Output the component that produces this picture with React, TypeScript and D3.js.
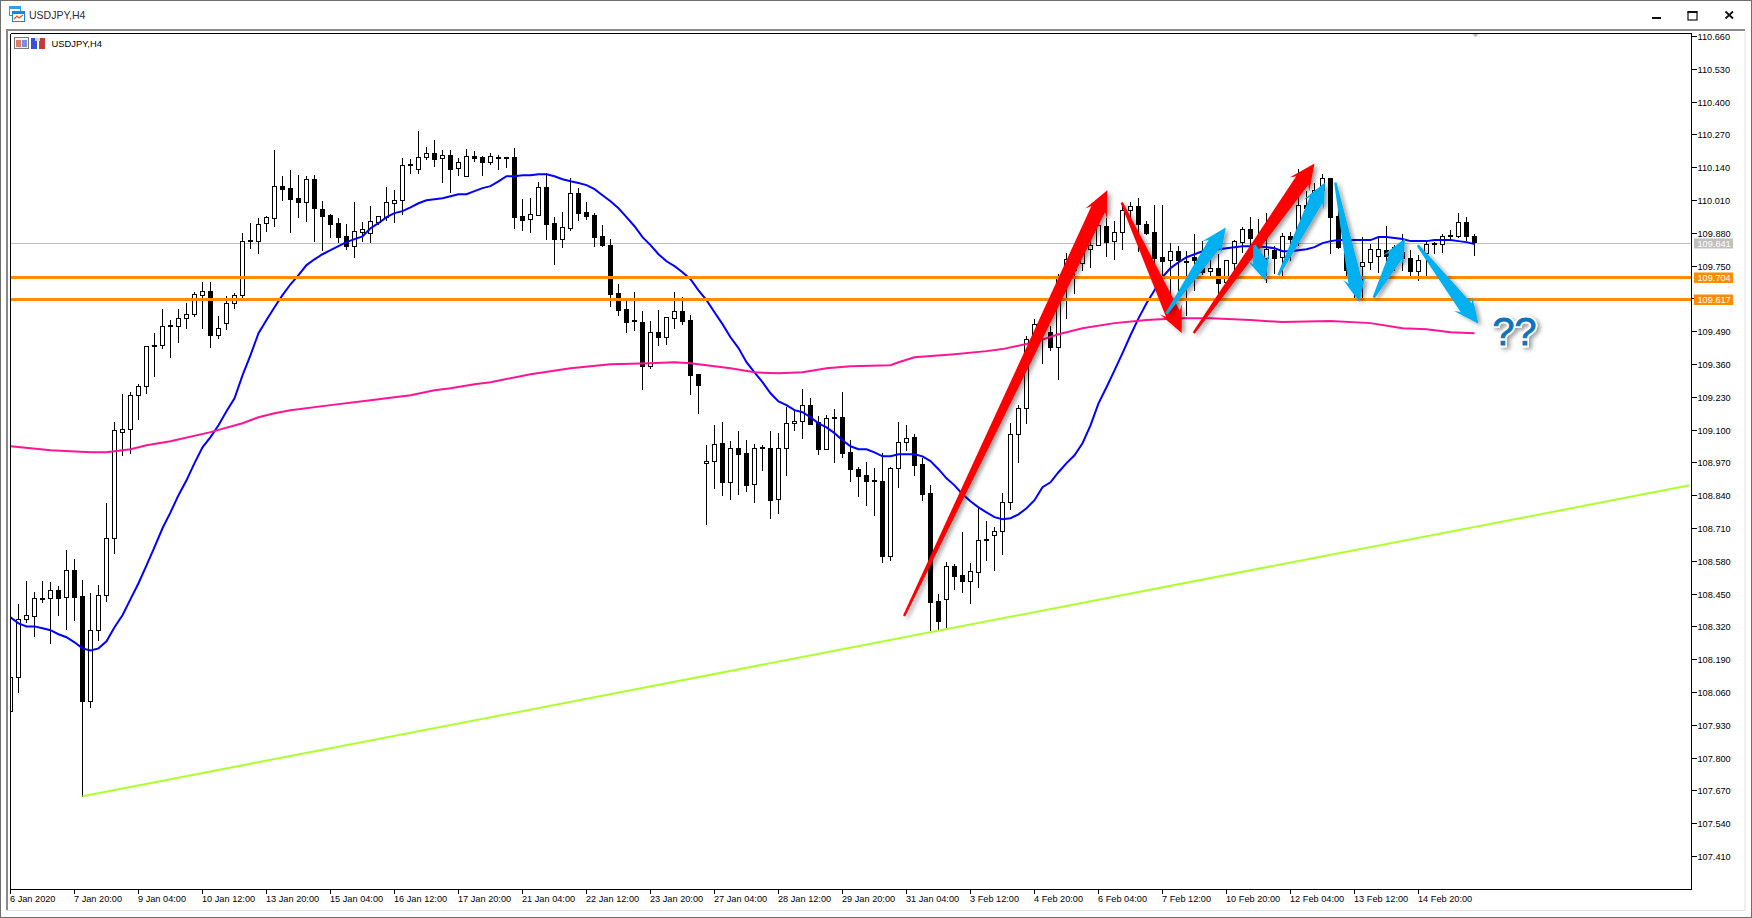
import React from "react";
import * as d3 from "d3";

const symbolTitle = "USDJPY,H4";
const dateLabels = ["6 Jan 2020","7 Jan 20:00","9 Jan 04:00","10 Jan 12:00","13 Jan 20:00","15 Jan 04:00","16 Jan 12:00","17 Jan 20:00","21 Jan 04:00","22 Jan 12:00","23 Jan 20:00","27 Jan 04:00","28 Jan 12:00","29 Jan 20:00","31 Jan 04:00","3 Feb 12:00","4 Feb 20:00","6 Feb 04:00","7 Feb 12:00","10 Feb 20:00","12 Feb 04:00","13 Feb 12:00","14 Feb 20:00"];
const priceTicks = ["110.660","110.530","110.400","110.270","110.140","110.010","109.880","109.750","109.620","109.490","109.360","109.230","109.100","108.970","108.840","108.710","108.580","108.450","108.320","108.190","108.060","107.930","107.800","107.670","107.540","107.410"];

const opens = [107.986,108.120,108.350,108.362,108.430,108.434,108.465,108.437,108.544,108.441,108.025,108.307,108.445,108.671,109.092,109.103,109.238,109.274,109.432,109.436,109.516,109.512,109.543,109.559,109.635,109.650,109.476,109.524,109.603,109.635,109.849,109.849,109.920,109.940,110.067,110.059,110.019,110.003,110.094,109.975,109.952,109.920,109.868,109.829,109.884,109.880,109.924,109.944,109.999,110.011,110.150,110.134,110.182,110.197,110.178,110.190,110.138,110.106,110.186,110.182,110.162,110.182,110.178,110.182,109.948,109.936,109.952,110.063,109.920,109.857,109.900,110.039,109.964,109.952,109.868,109.833,109.643,109.579,109.536,109.528,109.353,109.488,109.468,109.543,109.571,109.536,109.321,108.969,108.977,109.048,108.893,109.028,109.008,108.885,109.028,109.028,108.826,109.028,109.127,109.135,109.199,109.131,109.024,109.147,109.151,109.012,108.945,108.921,108.901,108.897,108.600,108.949,109.052,109.072,108.965,108.850,108.422,108.430,108.560,108.525,108.501,108.537,108.667,108.683,108.699,108.814,109.084,109.187,109.460,109.488,109.488,109.428,109.706,109.734,109.761,109.817,109.833,109.908,109.849,109.884,109.972,109.987,109.916,109.884,109.785,109.773,109.809,109.769,109.785,109.742,109.730,109.742,109.686,109.761,109.845,109.896,109.829,109.781,109.813,109.785,109.868,109.888,109.991,109.991,110.051,110.098,109.948,109.825,109.734,109.750,109.765,109.789,109.813,109.805,109.805,109.781,109.730,109.801,109.837,109.837,109.868,109.868,109.924,109.868];
const closes = [108.120,108.350,108.366,108.434,108.434,108.465,108.434,108.544,108.437,108.025,108.307,108.445,108.671,109.099,109.103,109.238,109.274,109.432,109.436,109.512,109.512,109.543,109.559,109.639,109.650,109.476,109.504,109.603,109.635,109.849,109.853,109.916,109.944,110.067,110.055,110.015,110.003,110.094,109.979,109.948,109.916,109.865,109.829,109.888,109.896,109.928,109.948,110.003,110.011,110.150,110.154,110.182,110.197,110.174,110.190,110.134,110.162,110.186,110.178,110.162,110.186,110.178,110.182,109.944,109.932,109.956,110.063,109.916,109.857,109.904,110.039,109.960,109.948,109.865,109.833,109.639,109.575,109.528,109.532,109.353,109.488,109.468,109.547,109.571,109.532,109.317,109.278,108.977,109.044,108.893,109.028,109.004,108.881,109.028,109.032,108.822,109.028,109.127,109.135,109.199,109.123,109.024,109.147,109.151,109.008,108.945,108.917,108.897,108.897,108.600,108.949,109.052,109.068,108.961,108.846,108.418,108.342,108.560,108.521,108.501,108.540,108.663,108.663,108.699,108.814,109.084,109.187,109.460,109.520,109.528,109.428,109.706,109.777,109.761,109.801,109.833,109.912,109.845,109.884,109.972,109.987,109.916,109.880,109.781,109.769,109.809,109.773,109.765,109.773,109.726,109.742,109.682,109.773,109.849,109.896,109.861,109.861,109.817,109.781,109.868,109.857,109.991,109.979,110.051,110.098,109.944,109.825,109.734,109.694,109.765,109.817,109.817,109.789,109.825,109.781,109.730,109.773,109.837,109.841,109.868,109.872,109.924,109.868,109.845];
const highs = [108.140,108.414,108.505,108.461,108.505,108.501,108.485,108.628,108.592,108.509,108.457,108.489,108.814,109.135,109.246,109.254,109.286,109.432,109.488,109.583,109.540,109.583,109.607,109.650,109.690,109.690,109.555,109.635,109.647,109.884,109.924,109.944,109.952,110.213,110.110,110.134,110.114,110.110,110.114,110.011,109.960,109.944,109.920,110.007,109.928,109.991,109.952,110.067,110.055,110.182,110.178,110.289,110.225,110.253,110.213,110.213,110.182,110.217,110.209,110.190,110.201,110.193,110.186,110.221,110.019,110.023,110.086,110.122,109.948,109.968,110.102,110.063,110.007,109.964,109.916,109.861,109.682,109.627,109.650,109.575,109.536,109.579,109.547,109.650,109.631,109.559,109.325,109.044,109.123,109.135,109.060,109.099,109.064,109.048,109.044,109.099,109.092,109.195,109.179,109.266,109.230,109.159,109.163,109.187,109.254,109.064,108.957,108.977,108.953,109.012,108.957,109.135,109.123,109.088,108.992,108.885,108.453,108.580,108.572,108.699,108.576,108.798,108.743,108.719,108.854,109.131,109.203,109.476,109.543,109.555,109.516,109.722,109.805,109.841,109.841,109.892,109.920,109.944,109.932,110.003,110.007,110.023,109.932,109.995,109.995,109.845,109.833,109.813,109.880,109.853,109.785,109.801,109.777,109.857,109.908,109.948,109.940,109.964,109.833,109.884,109.888,110.138,110.051,110.083,110.118,110.098,109.979,109.825,109.773,109.868,109.841,109.872,109.912,109.837,109.880,109.817,109.797,109.853,109.849,109.880,109.896,109.964,109.948,109.880];
const lows = [107.982,108.061,108.338,108.283,108.418,108.255,108.366,108.311,108.346,107.649,108.001,108.267,108.422,108.612,109.000,109.008,109.143,109.246,109.314,109.425,109.389,109.448,109.504,109.551,109.504,109.428,109.464,109.500,109.583,109.623,109.821,109.801,109.888,109.908,110.011,109.884,109.944,109.928,109.849,109.813,109.865,109.845,109.817,109.785,109.849,109.845,109.916,109.932,109.924,109.956,110.118,110.118,110.174,110.146,110.083,110.043,110.110,110.106,110.166,110.110,110.154,110.134,110.142,109.900,109.892,109.884,109.952,109.857,109.757,109.825,109.892,109.932,109.936,109.829,109.829,109.591,109.555,109.488,109.496,109.262,109.345,109.436,109.440,109.504,109.520,109.242,109.167,108.727,108.870,108.842,108.826,108.846,108.858,108.814,108.941,108.751,108.770,108.921,109.099,109.068,109.123,109.004,109.024,108.973,108.992,108.897,108.838,108.802,108.763,108.576,108.584,108.874,109.020,108.921,108.822,108.307,108.307,108.315,108.469,108.457,108.414,108.477,108.584,108.544,108.608,108.786,108.973,109.127,109.417,109.365,109.417,109.302,109.543,109.643,109.734,109.746,109.833,109.789,109.777,109.817,109.940,109.809,109.876,109.706,109.694,109.603,109.654,109.555,109.654,109.718,109.714,109.639,109.678,109.734,109.805,109.801,109.742,109.686,109.722,109.714,109.773,109.833,109.952,109.972,110.043,109.801,109.821,109.706,109.623,109.623,109.738,109.726,109.734,109.734,109.734,109.710,109.694,109.714,109.801,109.805,109.857,109.865,109.853,109.793];

const fastMa = [108.358,108.334,108.322,108.322,108.315,108.307,108.291,108.279,108.259,108.235,108.227,108.235,108.263,108.319,108.366,108.430,108.493,108.564,108.636,108.711,108.774,108.842,108.901,108.969,109.032,109.072,109.119,109.175,109.226,109.317,109.397,109.484,109.536,109.587,109.635,109.678,109.714,109.754,109.777,109.797,109.813,109.829,109.845,109.857,109.868,109.900,109.920,109.944,109.960,109.968,109.983,109.999,110.011,110.015,110.019,110.027,110.035,110.035,110.047,110.059,110.067,110.086,110.106,110.106,110.110,110.110,110.114,110.114,110.106,110.094,110.086,110.079,110.071,110.055,110.031,110.007,109.979,109.944,109.908,109.865,109.833,109.797,109.769,109.750,109.726,109.698,109.654,109.615,109.567,109.520,109.468,109.425,109.369,109.329,109.290,109.246,109.214,109.199,109.179,109.171,109.151,109.127,109.111,109.088,109.060,109.036,109.024,109.024,109.012,108.996,108.996,109.004,109.004,109.004,108.996,108.977,108.945,108.909,108.881,108.846,108.818,108.794,108.774,108.755,108.747,108.751,108.766,108.790,108.822,108.874,108.893,108.933,108.969,109.000,109.048,109.119,109.206,109.270,109.337,109.405,109.476,109.543,109.603,109.654,109.706,109.742,109.765,109.785,109.797,109.809,109.817,109.817,109.821,109.825,109.829,109.829,109.829,109.825,109.821,109.809,109.809,109.813,109.817,109.825,109.841,109.849,109.853,109.853,109.853,109.853,109.853,109.865,109.865,109.861,109.857,109.849,109.849,109.849,109.853,109.853,109.853,109.849,109.845,109.837];

const slowMaBars = [0,5,10,12,13,15,17,20,25,29,31,33,35,40,45,50,53,55,58,60,65,70,75,80,83,85,88,90,93,96,99,102,105,110,111,113,118,122,124,128,131,134,138,142,146,150,155,159,165,170,174,177,180,183];
const slowMaValues = [109.036,109.020,109.012,109.012,109.016,109.024,109.040,109.056,109.092,109.127,109.151,109.167,109.179,109.199,109.218,109.238,109.258,109.266,109.282,109.290,109.321,109.345,109.361,109.365,109.369,109.365,109.353,109.345,109.329,109.325,109.329,109.345,109.353,109.357,109.369,109.389,109.401,109.413,109.421,109.448,109.480,109.504,109.524,109.536,109.543,109.543,109.536,109.528,109.532,109.524,109.504,109.500,109.488,109.484];

const bidPrice = 109.841;
const levelPrices = [109.704, 109.617];
const trendBars = [9, 209.9];
const trendPrices = [107.649, 108.881];

const redTailBars = [111.7, 138.9, 147.9];
const redTailPrices = [108.363, 110.002, 109.485];
const redTipBars = [137.1, 146.4, 163.0];
const redTipPrices = [110.051, 109.485, 110.157];
const blueTailBars = [144.5, 155.5, 158.5, 165.6, 170.4, 175.9];
const blueTailPrices = [109.562, 109.833, 109.714, 110.081, 109.625, 109.833];
const blueTipBars = [151.9, 156.9, 164.3, 168.6, 174.3, 183.5];
const blueTipPrices = [109.903, 109.691, 110.081, 109.608, 109.859, 109.522];

const W = 1752, H = 918;
const L = 10.5, R = 1691.5, T = 33.5, B = 889.5;
const x = d3.scaleLinear().domain([0, 1]).range([L, L + 8]);
const y = d3.scaleLinear().domain([110.66, 107.41]).range([36.5, 856.5]);
const snap = (v: number) => Math.floor(v) + 0.5;
const font = "'Liberation Sans', Arial, sans-serif";

function arrowPath(tx: number, ty: number, px: number, py: number, headLen: number, headHalf: number, shaftHalf: number) {
  const len = Math.hypot(px - tx, py - ty);
  const ux = (px - tx) / len, uy = (py - ty) / len;
  const nx = -uy, ny = ux;
  const bx = px - ux * headLen, by = py - uy * headLen;
  const ix = bx + ux * 5, iy = by + uy * 5;
  const tailHalf = 1.2;
  const pts: [number, number][] = [
    [tx + nx * tailHalf, ty + ny * tailHalf],
    [ix + nx * shaftHalf, iy + ny * shaftHalf],
    [bx + nx * headHalf, by + ny * headHalf],
    [px, py],
    [bx - nx * headHalf, by - ny * headHalf],
    [ix - nx * shaftHalf, iy - ny * shaftHalf],
    [tx - nx * tailHalf, ty - ny * tailHalf],
  ];
  return d3.line()(pts) + "Z";
}

export default function App() {
  const fastLine = d3.line<number>().x((_, i) => x(i)).y((d) => y(d))(fastMa) as string;
  const slowLine = d3.line<number>().x((_, i) => x(slowMaBars[i])).y((d) => y(d))(slowMaValues) as string;
  const trendLine = d3.line<number>().x((d) => x(d)).y((_, i) => y(trendPrices[i]))(trendBars) as string;

  return (
    <svg width={W} height={H} viewBox={`0 0 ${W} ${H}`} style={{ position: "fixed", left: 0, top: 0, background: "#fff" }}>
      <defs>
        <clipPath id="plot"><rect x={10} y={33} width={1682} height={857} /></clipPath>
        <filter id="sh" x="-30%" y="-30%" width="160%" height="160%">
          <feGaussianBlur in="SourceAlpha" stdDeviation="2.2" />
          <feOffset dx="3" dy="2" />
          <feComponentTransfer><feFuncA type="linear" slope="0.38" /></feComponentTransfer>
          <feMerge><feMergeNode /><feMergeNode in="SourceGraphic" /></feMerge>
        </filter>
      </defs>

      {/* window chrome */}
      <rect x={0.5} y={0.5} width={W - 1} height={H - 1} fill="#fff" stroke="#6e6e6e" />
      <rect x={6} y={29} width={1739} height={2} fill="#8a8a8a" />
      <rect x={6} y={29} width={2} height={882} fill="#8a8a8a" />
      <rect x={6} y={910} width={1739} height={1} fill="#e0e0e0" />
      <rect x={1744.5} y={31} width={1} height={880} fill="#e0e0e0" />
      <rect x={9.5} y={6.5} width={11} height={9} fill="#fff" stroke="#2f9fe8" />
      <rect x={9.5} y={6.5} width={11} height={2.5} fill="#2f9fe8" />
      <rect x={12.5} y={11.5} width={12} height={10} fill="#fff" stroke="#1688d8" />
      <rect x={12.5} y={11.5} width={12} height={2.5} fill="#1688d8" />
      <path d="M14 19 L17 16 L19 18 L23 15" fill="none" stroke="#e8501e" strokeWidth={1.2} />
      <text x={29} y={18.5} fontFamily={font} fontSize={10.5} fill="#2b2b3a">{symbolTitle}</text>
      <rect x={1652} y={17} width={9} height={2} fill="#111" />
      <rect x={1688} y={12} width={9} height={8} fill="none" stroke="#111" strokeWidth={1.2} />
      <rect x={1687.5} y={11} width={10} height={2} fill="#111" />
      <path d="M1725.5 11.5 L1733 18.5 M1733 11.5 L1725.5 18.5" stroke="#111" strokeWidth={1.8} />

      {/* bid line */}
      <line x1={L} x2={R} y1={snap(y(bidPrice))} y2={snap(y(bidPrice))} stroke="#c0c0c0" strokeWidth={1} shapeRendering="crispEdges" />

      {/* candles */}
      <g clipPath="url(#plot)" shapeRendering="crispEdges">
        {opens.map((o, i) => {
          const cx = x(i);
          const top = snap(y(Math.max(o, closes[i])));
          const bot = snap(y(Math.min(o, closes[i])));
          const black = closes[i] < o;
          return (
            <g key={i}>
              <line x1={cx} x2={cx} y1={snap(y(highs[i]))} y2={snap(y(lows[i]))} stroke="#000" />
              <rect x={cx - 2} y={top} width={4} height={Math.max(bot - top, 1)} fill={black ? "#000" : "#fff"} stroke="#000" />
            </g>
          );
        })}
      </g>

      {/* moving averages */}
      <g clipPath="url(#plot)">
        <path d={fastLine} fill="none" stroke="#0000ff" strokeWidth={2} />
        <path d={slowLine} fill="none" stroke="#ff1493" strokeWidth={2} />
        {levelPrices.map((p) => (
          <line key={p} x1={L} x2={R} y1={snap(y(p))} y2={snap(y(p))} stroke="#ff8c00" strokeWidth={3} shapeRendering="crispEdges" />
        ))}
        <path d={trendLine} fill="none" stroke="#adff2f" strokeWidth={2} />
      </g>

      {/* chart label */}
      <rect x={14.5} y={37.5} width={14} height={11} fill="#f4f4f4" stroke="#7a7a7a" />
      <rect x={16} y={40} width={5} height={7} fill="#e07a6a" />
      <rect x={22} y={40} width={5} height={7} fill="#7a8ee0" />
      <rect x={31} y={38} width={6} height={11} fill="#3a4fd8" />
      <rect x={39} y={38} width={6} height={11} fill="#c83a3a" />
      <rect x={35} y={38} width={5} height={3} fill="#d8d8d8" />
      <text x={51.5} y={47} fontFamily={font} fontSize={9.4} fill="#000">{symbolTitle}</text>
      <path d="M1472 33.5 L1479 33.5 L1475.5 37.5 Z" fill="#c0c0c0" />

      {/* hand-drawn arrows */}
      <g filter="url(#sh)">
        {redTailBars.map((b, i) => (
          <path key={i} d={arrowPath(x(b), y(redTailPrices[i]), x(redTipBars[i]), y(redTipPrices[i]), 26, 12, 7.5)} fill="#ff0000" />
        ))}
      </g>
      <g filter="url(#sh)">
        {blueTailBars.map((b, i) => (
          <path key={i} d={arrowPath(x(b), y(blueTailPrices[i]), x(blueTipBars[i]), y(blueTipPrices[i]), 25, 11.5, 7)} fill="#00b0f0" />
        ))}
      </g>
      <g filter="url(#sh)">
        <text x={1492.5} y={345} fontFamily={font} fontSize={39.5} fill="#fff" stroke="#fff" strokeWidth={4.5}>??</text>
      </g>
      <text x={1492.5} y={345} fontFamily={font} fontSize={39.5} fill="#0f73bb" stroke="#0f73bb" strokeWidth={0.9}>??</text>

      {/* frame and axes */}
      <g shapeRendering="crispEdges" stroke="#000" fill="none">
        <line x1={L} x2={L} y1={T} y2={B} />
        <line x1={L} x2={R} y1={T} y2={T} />
        <line x1={L} x2={R} y1={B} y2={B} />
        <line x1={R} x2={R} y1={T} y2={B} />
        {priceTicks.map((t) => (
          <line key={t} x1={R} x2={R + 5} y1={snap(y(+t))} y2={snap(y(+t))} />
        ))}
        {dateLabels.map((t, i) => (
          <line key={t} x1={x(i * 8)} x2={x(i * 8)} y1={B} y2={B + 4} />
        ))}
      </g>
      <g fontFamily={font} fontSize={9.2} fill="#000">
        {priceTicks.map((t) => (
          <text key={t} x={1697.5} y={snap(y(+t)) + 3.5}>{t}</text>
        ))}
        {dateLabels.map((t, i) => (
          <text key={t} x={x(i * 8) - 0.5} y={902}>{t}</text>
        ))}
      </g>

      {/* price tags */}
      <g fontFamily={font} fontSize={9.2} fill="#fff">
        <rect x={1694} y={snap(y(bidPrice)) - 5} width={39} height={10} fill="#c0c0c0" />
        <text x={1697.5} y={snap(y(bidPrice)) + 3.5}>{bidPrice.toFixed(3)}</text>
        {levelPrices.map((p) => (
          <g key={p}>
            <rect x={1694} y={snap(y(p)) - 5} width={39} height={10.5} fill="#ff8c00" />
            <text x={1697.5} y={snap(y(p)) + 3.5}>{p.toFixed(3)}</text>
          </g>
        ))}
      </g>
    </svg>
  );
}
